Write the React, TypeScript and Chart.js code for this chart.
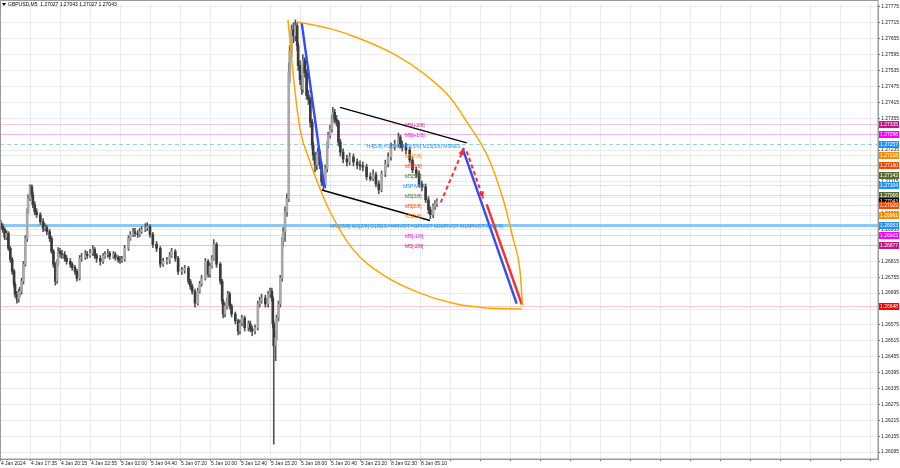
import React, { useEffect, useRef } from "react";
import { Chart, registerables } from "chart.js";

Chart.register(...registerables);

// ---- candle data (M5 bar index, OHLC) ----
const bars = [0,2,4,6,8,10,12,14,15,17,
 19,20,22,24,26,28,29,31,33,34,
 36,38,42,45,47,49,52,54,56,58,
 60,61,63,65,68,70,74,76,79,81,
 84,86,90,92,95,98,100,102,106,109,
 111,114,116,120,122,125,127,129,132,136,
 138,141,143,146,148,150,154,156,159,162,
 166,170,173,177,180,182,186,189,193,196,
 200,202,204,207,210,212,214,218,221,223,
 225,227,230,234,236,237,239,241,242,244,
 246,250,253,255,257,260,264,266,268,271,
 274,276,278,282,285,287,289,290,291,293,
 294,296,298,300,301,303,305,307,308,310,
 312,314,316,317,319,321,322,324,326,328,
 330,332,333,335,337,338,340,342,344,346,
 348,349,351,353,354,356,358,360,362,365,
 369,372,376,380,383,386,390,394,397,400,
 403,406,410,413,416,420,424,426,428,432,
 436,439,443,446,449,453,456,458,461,463,
 465];

const opens = [1.26957,1.26946,1.26935,1.26905,1.26920,1.26864,1.26822,1.26777,1.26729,1.26691,
 1.26672,1.26695,1.26702,1.26740,1.26804,1.26901,1.27002,1.27051,1.27096,1.27066,
 1.27029,1.27002,1.26991,1.26965,1.26939,1.26942,1.26927,1.26901,1.26852,1.26804,
 1.26740,1.26807,1.26852,1.26845,1.26841,1.26826,1.26815,1.26804,1.26792,1.26777,
 1.26751,1.26826,1.26830,1.26841,1.26837,1.26845,1.26860,1.26837,1.26826,1.26815,
 1.26834,1.26841,1.26845,1.26834,1.26841,1.26830,1.26822,1.26819,1.26822,1.26864,
 1.26901,1.26916,1.26927,1.26920,1.26916,1.26927,1.26935,1.26942,1.26946,1.26916,
 1.26879,1.26864,1.26804,1.26815,1.26819,1.26837,1.26852,1.26826,1.26777,1.26781,
 1.26789,1.26740,1.26721,1.26702,1.26657,1.26702,1.26729,1.26751,1.26815,1.26766,
 1.26796,1.26826,1.26879,1.26804,1.26740,1.26665,1.26616,1.26646,1.26665,1.26691,
 1.26646,1.26616,1.26590,1.26552,1.26582,1.26601,1.26564,1.26579,1.26560,1.26552,
 1.26564,1.26654,1.26665,1.26676,1.26654,1.26691,1.26702,1.26676,1.26579,1.26496,
 1.26526,1.26601,1.26654,1.26751,1.26890,1.26927,1.27002,1.27051,1.27527,1.27610,
 1.27689,1.27666,1.27704,1.27629,1.27554,1.27501,1.27464,1.27576,1.27527,1.27441,
 1.27426,1.27340,1.27254,1.27216,1.27179,1.27216,1.27227,1.27179,1.27115,1.27104,
 1.27164,1.27254,1.27291,1.27314,1.27351,1.27377,1.27351,1.27340,1.27265,1.27227,
 1.27201,1.27190,1.27209,1.27190,1.27179,1.27175,1.27171,1.27134,1.27126,1.27141,
 1.27107,1.27085,1.27145,1.27182,1.27209,1.27246,1.27257,1.27284,1.27257,1.27246,
 1.27235,1.27197,1.27160,1.27145,1.27107,1.27096,1.27047,1.27010,1.26991,1.27021,
 1.27032];

const highs = [1.26969,1.26957,1.26942,1.26931,1.26927,1.26871,1.26830,1.26785,1.26736,1.26702,
 1.26710,1.26717,1.26751,1.26815,1.26912,1.27014,1.27066,1.27104,1.27104,1.27077,
 1.27040,1.27014,1.26999,1.26976,1.26957,1.26950,1.26935,1.26909,1.26860,1.26811,
 1.26822,1.26867,1.26864,1.26856,1.26852,1.26837,1.26826,1.26811,1.26800,1.26785,
 1.26837,1.26845,1.26856,1.26852,1.26860,1.26875,1.26867,1.26845,1.26837,1.26845,
 1.26852,1.26860,1.26852,1.26852,1.26849,1.26837,1.26834,1.26834,1.26875,1.26912,
 1.26927,1.26939,1.26939,1.26931,1.26939,1.26946,1.26957,1.26961,1.26954,1.26924,
 1.26890,1.26871,1.26826,1.26830,1.26849,1.26864,1.26860,1.26834,1.26792,1.26800,
 1.26796,1.26747,1.26729,1.26710,1.26714,1.26740,1.26762,1.26826,1.26822,1.26807,
 1.26837,1.26897,1.26886,1.26811,1.26747,1.26672,1.26657,1.26676,1.26702,1.26699,
 1.26654,1.26624,1.26597,1.26594,1.26612,1.26609,1.26590,1.26590,1.26571,1.26575,
 1.26665,1.26680,1.26691,1.26687,1.26702,1.26714,1.26714,1.26684,1.26590,1.26552,
 1.26612,1.26665,1.26762,1.26905,1.26942,1.27021,1.27070,1.27565,1.27629,1.27707,
 1.27715,1.27726,1.27715,1.27640,1.27572,1.27516,1.27595,1.27584,1.27539,1.27460,
 1.27434,1.27351,1.27265,1.27227,1.27227,1.27242,1.27235,1.27190,1.27130,1.27179,
 1.27265,1.27302,1.27329,1.27366,1.27396,1.27389,1.27366,1.27347,1.27276,1.27239,
 1.27216,1.27224,1.27220,1.27201,1.27194,1.27190,1.27182,1.27149,1.27160,1.27152,
 1.27119,1.27156,1.27197,1.27224,1.27261,1.27272,1.27299,1.27291,1.27269,1.27261,
 1.27246,1.27209,1.27171,1.27156,1.27119,1.27107,1.27059,1.27021,1.27032,1.27044,
 1.27051];

const lows = [1.26935,1.26924,1.26897,1.26897,1.26856,1.26811,1.26766,1.26717,1.26680,1.26657,
 1.26661,1.26680,1.26691,1.26729,1.26796,1.26890,1.26995,1.27044,1.27055,1.27017,
 1.26991,1.26980,1.26954,1.26927,1.26931,1.26916,1.26890,1.26845,1.26792,1.26725,
 1.26732,1.26800,1.26830,1.26826,1.26815,1.26804,1.26792,1.26781,1.26766,1.26740,
 1.26744,1.26815,1.26822,1.26826,1.26830,1.26837,1.26826,1.26811,1.26800,1.26807,
 1.26826,1.26830,1.26822,1.26826,1.26819,1.26811,1.26807,1.26811,1.26815,1.26856,
 1.26894,1.26909,1.26909,1.26905,1.26909,1.26920,1.26927,1.26931,1.26905,1.26867,
 1.26852,1.26792,1.26796,1.26804,1.26807,1.26830,1.26815,1.26766,1.26766,1.26770,
 1.26729,1.26710,1.26691,1.26642,1.26650,1.26695,1.26721,1.26744,1.26755,1.26755,
 1.26789,1.26819,1.26792,1.26729,1.26654,1.26601,1.26605,1.26635,1.26657,1.26635,
 1.26605,1.26579,1.26537,1.26541,1.26571,1.26552,1.26552,1.26549,1.26534,1.26541,
 1.26556,1.26642,1.26657,1.26642,1.26642,1.26680,1.26665,1.26564,1.26125,1.26440,
 1.26515,1.26590,1.26642,1.26740,1.26871,1.26890,1.26984,1.27040,1.27490,1.27584,
 1.27640,1.27647,1.27610,1.27535,1.27482,1.27445,1.27452,1.27509,1.27426,1.27407,
 1.27321,1.27239,1.27197,1.27152,1.27160,1.27201,1.27164,1.27100,1.27085,1.27092,
 1.27152,1.27242,1.27280,1.27302,1.27340,1.27336,1.27325,1.27250,1.27212,1.27186,
 1.27175,1.27179,1.27175,1.27164,1.27160,1.27156,1.27122,1.27119,1.27119,1.27096,
 1.27070,1.27077,1.27134,1.27171,1.27197,1.27235,1.27246,1.27242,1.27231,1.27220,
 1.27186,1.27149,1.27130,1.27096,1.27081,1.27036,1.26995,1.26976,1.26980,1.27010,
 1.27021];

const closes = [1.26946,1.26935,1.26905,1.26920,1.26864,1.26822,1.26777,1.26729,1.26691,1.26672,
 1.26695,1.26702,1.26740,1.26804,1.26901,1.27002,1.27051,1.27096,1.27066,1.27029,
 1.27002,1.26991,1.26965,1.26939,1.26942,1.26927,1.26901,1.26852,1.26804,1.26740,
 1.26807,1.26852,1.26845,1.26841,1.26826,1.26815,1.26804,1.26792,1.26777,1.26751,
 1.26826,1.26830,1.26841,1.26837,1.26845,1.26860,1.26837,1.26826,1.26815,1.26834,
 1.26841,1.26845,1.26834,1.26841,1.26830,1.26822,1.26819,1.26822,1.26864,1.26901,
 1.26916,1.26927,1.26920,1.26916,1.26927,1.26935,1.26942,1.26946,1.26916,1.26879,
 1.26864,1.26804,1.26815,1.26819,1.26837,1.26852,1.26826,1.26777,1.26781,1.26789,
 1.26740,1.26721,1.26702,1.26657,1.26702,1.26729,1.26751,1.26815,1.26766,1.26796,
 1.26826,1.26879,1.26804,1.26740,1.26665,1.26616,1.26646,1.26665,1.26691,1.26646,
 1.26616,1.26590,1.26552,1.26582,1.26601,1.26564,1.26579,1.26560,1.26552,1.26564,
 1.26654,1.26665,1.26676,1.26654,1.26691,1.26702,1.26676,1.26579,1.26496,1.26526,
 1.26601,1.26654,1.26751,1.26890,1.26927,1.27002,1.27051,1.27527,1.27610,1.27689,
 1.27666,1.27704,1.27629,1.27554,1.27501,1.27464,1.27576,1.27527,1.27441,1.27426,
 1.27340,1.27254,1.27216,1.27179,1.27216,1.27227,1.27179,1.27115,1.27104,1.27164,
 1.27254,1.27291,1.27314,1.27351,1.27377,1.27351,1.27340,1.27265,1.27227,1.27201,
 1.27190,1.27209,1.27190,1.27179,1.27175,1.27171,1.27134,1.27126,1.27141,1.27107,
 1.27085,1.27145,1.27182,1.27209,1.27246,1.27257,1.27284,1.27257,1.27246,1.27235,
 1.27197,1.27160,1.27145,1.27107,1.27096,1.27047,1.27010,1.26991,1.27021,1.27032,
 1.27043];

// ---- axes ----
const timeLabels = ["4 Jan 2024","4 Jan 17:35","4 Jan 20:15","4 Jan 22:55","5 Jan 02:00","5 Jan 04:40","5 Jan 07:20","5 Jan 10:00","5 Jan 12:40","5 Jan 15:20","5 Jan 18:00","5 Jan 20:40","5 Jan 23:20","8 Jan 02:30","8 Jan 05:10"];
const barsPerLabel = 32;
const priceTicks = [1.27775,1.27715,1.27655,1.27595,1.27535,1.27475,1.27415,1.27355,1.27295,1.27235,1.27175,1.27115,1.27055,1.26995,1.26935,1.26875,1.26815,1.26755,1.26695,1.26635,1.26575,1.26515,1.26455,1.26395,1.26335,1.26275,1.26215,1.26155,1.26095];

// ---- Murrey-style levels ----
const levelPrices = [1.27335,1.27296,1.27257,1.27218,1.27180,1.27142,1.27104,1.27066,1.27043,1.27029,1.26991,1.26953,1.26915,1.26877,1.26648];
const levelNames = ["M5[+2/8]","M5[+1/8]","H4[5/8] H1[5/8] M30[5/8] M15[5/8] M5RES","M5[7/8]","M5[6/8]","M5[5/8]","M5PIVOT","M5[3/8]","","M5[2/8]","M5[1/8]","MN1[5/8] W1[2/8] D1RES H4PIVOT H1PIVOT M30PIVOT M15PIVOT M5[0/8]","M5[-1/8]","M5[-2/8]",""];
const levelTextBars = [431,431,390,431,431,431,429,431,431,431,431,351,431,431,431];

// ---- drawn objects (bar index, price) ----
const upperArcBars = [315.8,351,383,420.3,452.3,479,497.1,518.5,535.5,546.2,553.7,556.3];
const upperArcPrices = [1.27719,1.27693,1.27655,1.27595,1.27520,1.27434,1.27340,1.27216,1.27051,1.26901,1.26777,1.26650];
const lowerArcBars = [306.2,309.4,312.6,319,329.7,340.3,351,375.5,409.7,447,482.2,518.5,555.8];
const lowerArcPrices = [1.27726,1.27603,1.27490,1.27314,1.27190,1.27089,1.27002,1.26860,1.26759,1.26695,1.26657,1.26639,1.26635];
const channelTopBars = [361.7,496.8];
const channelTopPrices = [1.27396,1.27262];
const channelBottomBars = [342.2,457.7];
const channelBottomPrices = [1.27084,1.26969];
const impulseBars = [320.8,344.9];
const impulsePrices = [1.27715,1.27096];
const targetBars = [492.5,550.1];
const targetPrices = [1.27240,1.26655];
const forecastUpBars = [469.1,493.9];
const forecastUpPrices = [1.27037,1.27243];
const forecastDownBars = [496.8,514.5];
const forecastDownPrices = [1.27230,1.27052];
const forecastRedBars = [518.1,555.5];
const forecastRedPrices = [1.27030,1.26653];

const symbolTitle = "GBPUSD,M5";
const lastOHLC = [1.27027,1.27043,1.27027,1.27043];

export default function App() {
  const ref = useRef<HTMLCanvasElement>(null);

  useEffect(() => {
    const canvas = ref.current;
    if (!canvas) return;
    const FONT = '"Liberation Sans", Arial, sans-serif';
    const levelColors = ["#c71585","#ff00ff","#1e90ff","#ff8c00","#ff4500","#556b2f","#1e90ff","#556b2f","#000000","#ff4500","#ff8c00","#1e90ff","#ff00ff","#c71585","#ff0000"];

    const toXY = (xs: number[], ys: number[]) => xs.map((x, i) => ({ x, y: ys[i] }));
    const lineDs = (label: string, xs: number[], ys: number[], color: string, width: number, extra: any = {}) => ({
      type: "line" as const,
      label,
      data: toXY(xs, ys),
      borderColor: color,
      borderWidth: width,
      pointRadius: 0,
      fill: false,
      tension: 0,
      order: 1,
      ...extra,
    });

    const bodyData = bars.map((b, i) => ({ x: b, y: [opens[i], closes[i]] }));
    const wickData = bars.map((b, i) => ({ x: b, y: [lows[i], highs[i]] }));
    const bodyColors = bars.map((_, i) => (closes[i] >= opens[i] ? "#a8a8a8" : "#3a3a3a"));

    const levelsPlugin = {
      id: "levels",
      beforeDatasetsDraw(chart: any) {
        const { ctx, chartArea: a, scales } = chart;
        const y = scales.y;
        ctx.save();
        ctx.beginPath();
        ctx.rect(a.left, a.top, a.right - a.left, a.bottom - a.top);
        ctx.clip();
        levelPrices.forEach((p, i) => {
          if (i === 8) return;
          const py = Math.round(y.getPixelForValue(p)) + 0.5;
          ctx.beginPath();
          ctx.setLineDash([]);
          if (i === 11) {
            ctx.globalAlpha = 1;
            ctx.strokeStyle = "#8cc8f4";
            ctx.lineWidth = 3;
          } else {
            ctx.globalAlpha = 0.22;
            ctx.strokeStyle = levelColors[i];
            ctx.lineWidth = 1;
            if (i === 2) {
              ctx.globalAlpha = 0.45;
              ctx.setLineDash([4, 3]);
            }
          }
          ctx.moveTo(a.left, py);
          ctx.lineTo(a.right, py);
          ctx.stroke();
        });
        ctx.restore();
      },
      afterDatasetsDraw(chart: any) {
        const { ctx, scales } = chart;
        const x = scales.x, y = scales.y;
        ctx.save();
        const arrow = (xs: number[], ys: number[]) => {
          const x0 = x.getPixelForValue(xs[0]), y0 = y.getPixelForValue(ys[0]);
          const x1 = x.getPixelForValue(xs[1]), y1 = y.getPixelForValue(ys[1]);
          const ang = Math.atan2(y1 - y0, x1 - x0);
          const L = 7, W = 3;
          ctx.beginPath();
          ctx.moveTo(x1, y1);
          ctx.lineTo(x1 - L * Math.cos(ang) + W * Math.sin(ang), y1 - L * Math.sin(ang) - W * Math.cos(ang));
          ctx.lineTo(x1 - L * Math.cos(ang) - W * Math.sin(ang), y1 - L * Math.sin(ang) + W * Math.cos(ang));
          ctx.closePath();
          ctx.fillStyle = "#ff2a2a";
          ctx.fill();
        };
        arrow(forecastUpBars, forecastUpPrices);
        arrow(forecastDownBars, forecastDownPrices);
        ctx.font = `5px ${FONT}`;
        ctx.textBaseline = "middle";
        ctx.textAlign = "left";
        levelPrices.forEach((p, i) => {
          if (!levelNames[i]) return;
          ctx.fillStyle = levelColors[i];
          ctx.fillText(levelNames[i], x.getPixelForValue(levelTextBars[i]), y.getPixelForValue(p) + 2);
        });
        ctx.restore();
      },
      afterDraw(chart: any) {
        const { ctx, chartArea: a, scales } = chart;
        const y = scales.y;
        ctx.save();
        ctx.strokeStyle = "#9a9a9a";
        ctx.lineWidth = 1;
        ctx.strokeRect(0.5, 0.5, a.right - 0.5, a.bottom - 0.5);
        ctx.font = `5px ${FONT}`;
        ctx.textAlign = "center";
        ctx.textBaseline = "middle";
        levelPrices.forEach((p, i) => {
          const py = y.getPixelForValue(p);
          ctx.fillStyle = levelColors[i];
          ctx.fillRect(a.right + 1, Math.round(py) - 3, 20, 7);
          ctx.fillStyle = "#ffffff";
          ctx.fillText(p.toFixed(5), a.right + 11, Math.round(py) + 0.5);
        });
        ctx.fillStyle = "#000";
        ctx.beginPath();
        ctx.moveTo(2, 3);
        ctx.lineTo(6, 3);
        ctx.lineTo(4, 6);
        ctx.closePath();
        ctx.fill();
        ctx.textAlign = "left";
        ctx.fillText(`${symbolTitle}  ${lastOHLC.map((v) => v.toFixed(5)).join(" ")}`, 8, 5);
        ctx.restore();
      },
    };

    const chart = new Chart(canvas, {
      type: "bar",
      data: {
        datasets: [
          lineDs("upperArc", upperArcBars, upperArcPrices, "#ffa500", 1.5, { cubicInterpolationMode: "monotone" }),
          lineDs("lowerArc", lowerArcBars, lowerArcPrices, "#ffa500", 1.5, { cubicInterpolationMode: "monotone" }),
          lineDs("channelTop", channelTopBars, channelTopPrices, "#000000", 1.4),
          lineDs("channelBottom", channelBottomBars, channelBottomPrices, "#000000", 1.4),
          lineDs("impulse", impulseBars, impulsePrices, "#2f4bff", 2.4),
          lineDs("target", targetBars, targetPrices, "#2f4bff", 2.4),
          lineDs("forecastUp", forecastUpBars, forecastUpPrices, "#ff2a2a", 2, { borderDash: [4, 3] }),
          lineDs("forecastDown", forecastDownBars, forecastDownPrices, "#ff2a2a", 2, { borderDash: [4, 3] }),
          lineDs("forecastRed", forecastRedBars, forecastRedPrices, "#ff2a2a", 2.4),
          {
            type: "bar" as const,
            label: "bodies",
            data: bodyData as any,
            backgroundColor: bodyColors,
            barThickness: 2,
            minBarLength: 1,
            grouped: false,
            order: 2,
          },
          {
            type: "bar" as const,
            label: "wicks",
            data: wickData as any,
            backgroundColor: "#555555",
            barThickness: 1,
            grouped: false,
            order: 3,
          },
        ] as any,
      },
      options: {
        responsive: false,
        animation: false,
        events: [],
        layout: { padding: { top: 1, left: 0, right: 0, bottom: 0 } },
        plugins: {
          legend: { display: false },
          tooltip: { enabled: false },
        },
        scales: {
          x: {
            type: "linear",
            min: -1,
            max: 935.5,
            offset: false,
            afterBuildTicks: (s: any) => {
              const t: any[] = [];
              for (let v = 0; v <= s.max; v += barsPerLabel) t.push({ value: v });
              s.ticks = t;
            },
            afterFit: (s: any) => {
              s.height = 9;
            },
            grid: { color: "#ebebeb", offset: false, drawTicks: true, tickLength: 2, tickColor: "#666" },
            border: { display: true, color: "#9a9a9a" },
            ticks: {
              autoSkip: false,
              maxRotation: 0,
              minRotation: 0,
              align: "start",
              padding: 0,
              color: "#222",
              font: { family: FONT, size: 5 },
              callback: (_v: any, i: number) => timeLabels[i] ?? "",
            },
          },
          y: {
            type: "linear",
            position: "right",
            min: 1.26069,
            max: 1.27786,
            beginAtZero: false,
            afterBuildTicks: (s: any) => {
              s.ticks = priceTicks.map((v) => ({ value: v }));
            },
            afterFit: (s: any) => {
              s.width = 22;
            },
            grid: { color: "#ebebeb", drawTicks: true, tickLength: 2, tickColor: "#666" },
            border: { display: true, color: "#9a9a9a" },
            ticks: {
              autoSkip: false,
              padding: 1,
              color: "#222",
              font: { family: FONT, size: 5 },
              callback: (v: any) => Number(v).toFixed(5),
            },
          },
        } as any,
      },
      plugins: [levelsPlugin],
    } as any);

    return () => chart.destroy();
  }, []);

  return (
    <canvas
      ref={ref}
      width={900}
      height={468}
      style={{ position: "absolute", left: 0, top: 0, display: "block", width: 900, height: 468 }}
    />
  );
}
